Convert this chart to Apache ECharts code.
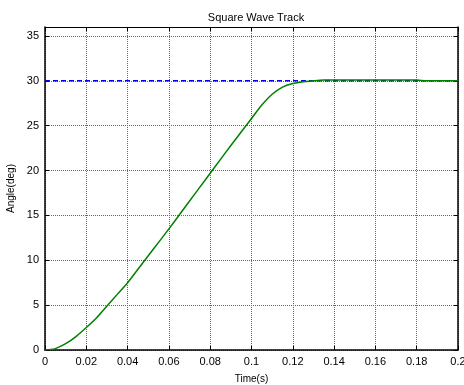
<!DOCTYPE html>
<html>
<head>
<meta charset="utf-8">
<script src="https://cdn.jsdelivr.net/npm/echarts@6/dist/echarts.min.js"></script>
<style>
  html, body { margin: 0; padding: 0; background: #fff; }
  #chart { width: 464px; height: 385px; }
</style>
</head>
<body>
<div id="chart"></div>
<script>
// time samples (s) and response angle (deg)
const times = [0, 0.005, 0.01, 0.015, 0.02, 0.025, 0.03, 0.035, 0.04, 0.045, 0.05,
  0.055, 0.06, 0.065, 0.07, 0.075, 0.08, 0.085, 0.09, 0.095, 0.1,
  0.105, 0.11, 0.115, 0.12, 0.125, 0.13, 0.135, 0.14, 0.15, 0.16, 0.17, 0.18, 0.185, 0.19, 0.2]
const angle = [0, 0.15, 0.7, 1.5, 2.5, 3.6, 4.9, 6.2, 7.5, 9.0, 10.5,
  12.0, 13.5, 15.05, 16.6, 18.15, 19.7, 21.25, 22.8, 24.3, 25.8,
  27.3, 28.5, 29.3, 29.7, 29.9, 30.0, 30.08, 30.1, 30.1, 30.1, 30.1, 30.08, 30.0, 30.0, 30.0]
// reference (square wave level)
const refTimes = [0, 0.2]
const refAngle = [30, 30]

const textColor = "#000"
const font = "Liberation Sans"

const chart = echarts.init(document.getElementById("chart"), null, { renderer: "canvas" })

const fmt = (v) => String(parseFloat(v.toFixed(3)))

const option = {
  animation: false,
  title: {
    text: "Square Wave Track",
    left: 251,
    textAlign: "center",
    top: 7,
    textStyle: { fontSize: 11, fontWeight: "normal", color: textColor, fontFamily: font },
  },
  grid: { left: 45, right: 6, top: 27, bottom: 35, outerBoundsMode: "none", containLabel: false },
  xAxis: [
    {
      type: "value",
      min: 0,
      max: 0.2,
      interval: 0.02,
      name: "Time(s)",
      nameLocation: "middle",
      nameGap: 24,
      nameTextStyle: { fontSize: 10, color: textColor, fontFamily: font },
      axisLine: { show: true, onZero: false, lineStyle: { color: "#000", width: 1.5 } },
      axisTick: { show: true, inside: true, length: 4, lineStyle: { color: "#000" } },
      axisLabel: { color: textColor, fontSize: 11, fontFamily: font, margin: 6, formatter: fmt },
      splitLine: { show: true, lineStyle: { color: "#666", type: "dotted", width: 1 } },
    },
    {
      type: "value",
      position: "top",
      min: 0,
      max: 0.2,
      interval: 0.02,
      axisLine: { show: true, onZero: false, lineStyle: { color: "#000", width: 1 } },
      axisTick: { show: true, inside: true, length: 4, lineStyle: { color: "#000" } },
      axisLabel: { show: false },
      splitLine: { show: false },
    },
  ],
  yAxis: [
    {
      type: "value",
      min: 0,
      max: 36,
      interval: 5,
      name: "Angle(deg)",
      nameLocation: "middle",
      nameGap: 22,
      nameTextStyle: { fontSize: 10, color: textColor, fontFamily: font },
      axisLine: { show: true, onZero: false, lineStyle: { color: "#000", width: 1.5 } },
      axisTick: { show: true, inside: true, length: 4, lineStyle: { color: "#000" } },
      axisLabel: { color: textColor, fontSize: 11, fontFamily: font, margin: 6, showMaxLabel: false },
      splitLine: { show: true, lineStyle: { color: "#666", type: "dotted", width: 1 } },
    },
    {
      type: "value",
      position: "right",
      min: 0,
      max: 36,
      interval: 5,
      axisLine: { show: true, onZero: false, lineStyle: { color: "#000", width: 1.5 } },
      axisTick: { show: true, inside: true, length: 4, lineStyle: { color: "#000" } },
      axisLabel: { show: false },
      splitLine: { show: false },
    },
  ],
  series: [
    {
      name: "reference",
      type: "line",
      data: refTimes.map((t, i) => [t, refAngle[i]]),
      symbol: "none",
      lineStyle: { color: "#0000ff", width: 1.5, type: [5, 3] },
      z: 2,
    },
    {
      name: "angle",
      type: "line",
      data: times.map((t, i) => [t, angle[i]]),
      symbol: "none",
      smooth: 0.3,
      lineStyle: { color: "#008000", width: 1.5 },
      z: 3,
    },
  ],
}

chart.setOption(option)
</script>
</body>
</html>
